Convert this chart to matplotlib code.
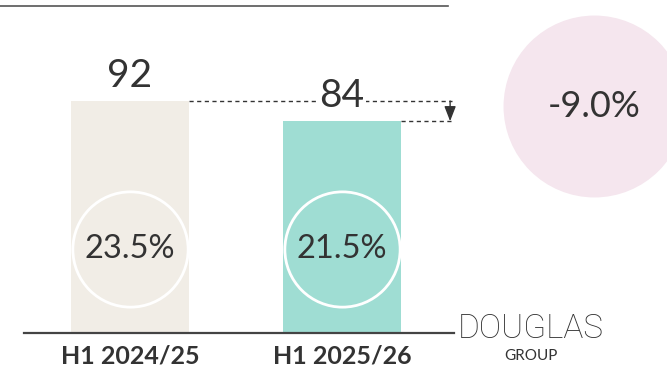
import matplotlib.pyplot as plt

# data
periods = ['H1 2024/25', 'H1 2025/26']
values = [92, 84]
margins = ['23.5%', '21.5%']
change = '-9.0%'
bar_colors = ['#F1EDE6', '#9FDDD3']

text_col = '#333333'
plt.rcParams['font.family'] = ['Lato', 'DejaVu Sans']

fig = plt.figure(figsize=(6.67, 3.72), dpi=100)
ax = fig.add_axes([0, 0, 1, 1])
ax.set_xlim(-0.613, 2.533)
ax.set_ylim(-15.47, 132.05)
ax.axis('off')

x = list(range(len(values)))
ax.bar(x, values, width=0.557, color=bar_colors, zorder=1)

# baseline and top rule
ax.plot([-0.5, 1.53], [0, 0], color='#444444', lw=1.6, zorder=3)
ax.plot([-0.613, 1.5], [129.7, 129.7], color='#555555', lw=1.2)

for i, v in enumerate(values):
    ax.text(x[i], v + 10, str(v), ha='center', va='center', fontsize=28,
            color=text_col, zorder=5,
            bbox=dict(facecolor='white', edgecolor='none', pad=1))
    ax.plot(x[i], 33.3, marker='o', markersize=83, markerfacecolor='none',
            markeredgecolor='white', markeredgewidth=2, zorder=2)
    ax.text(x[i], 33.3, margins[i], ha='center', va='center', fontsize=23.5,
            color=text_col, zorder=3)
    ax.text(x[i], -9.3, periods[i], ha='center', va='center', fontsize=18,
            fontweight='bold', color=text_col)

# dashed reference lines and arrow
ax.plot([x[0] + 0.2785, 1.52], [values[0], values[0]], color='#333333',
        lw=1, ls=(0, (3, 2.5)), zorder=4)
ax.plot([x[1] + 0.2785, 1.52], [values[1], values[1]], color='#333333',
        lw=1, ls=(0, (3, 2.5)), zorder=4)
ax.annotate('', xy=(1.51, values[1]), xytext=(1.51, values[0]),
            arrowprops=dict(arrowstyle='-|>,head_length=0.9,head_width=0.35',
                            color='#333333', lw=1, shrinkA=0, shrinkB=0))

# change bubble
ax.plot(2.189, 90.0, marker='o', markersize=131, color='#F5E6EE',
        markeredgewidth=0, zorder=0, clip_on=False)
ax.text(2.189, 90.0, change, ha='center', va='center', fontsize=26,
        color=text_col)

# logo text
ax.text(1.892, 1.6, 'DOUGLAS', ha='center', va='center', fontsize=24,
        family=['Roboto', 'DejaVu Sans'], fontweight='light', color=text_col)
ax.text(1.892, -9.2, 'GROUP', ha='center', va='center', fontsize=11,
        color=text_col)

fig.savefig('out.png', dpi=100)
